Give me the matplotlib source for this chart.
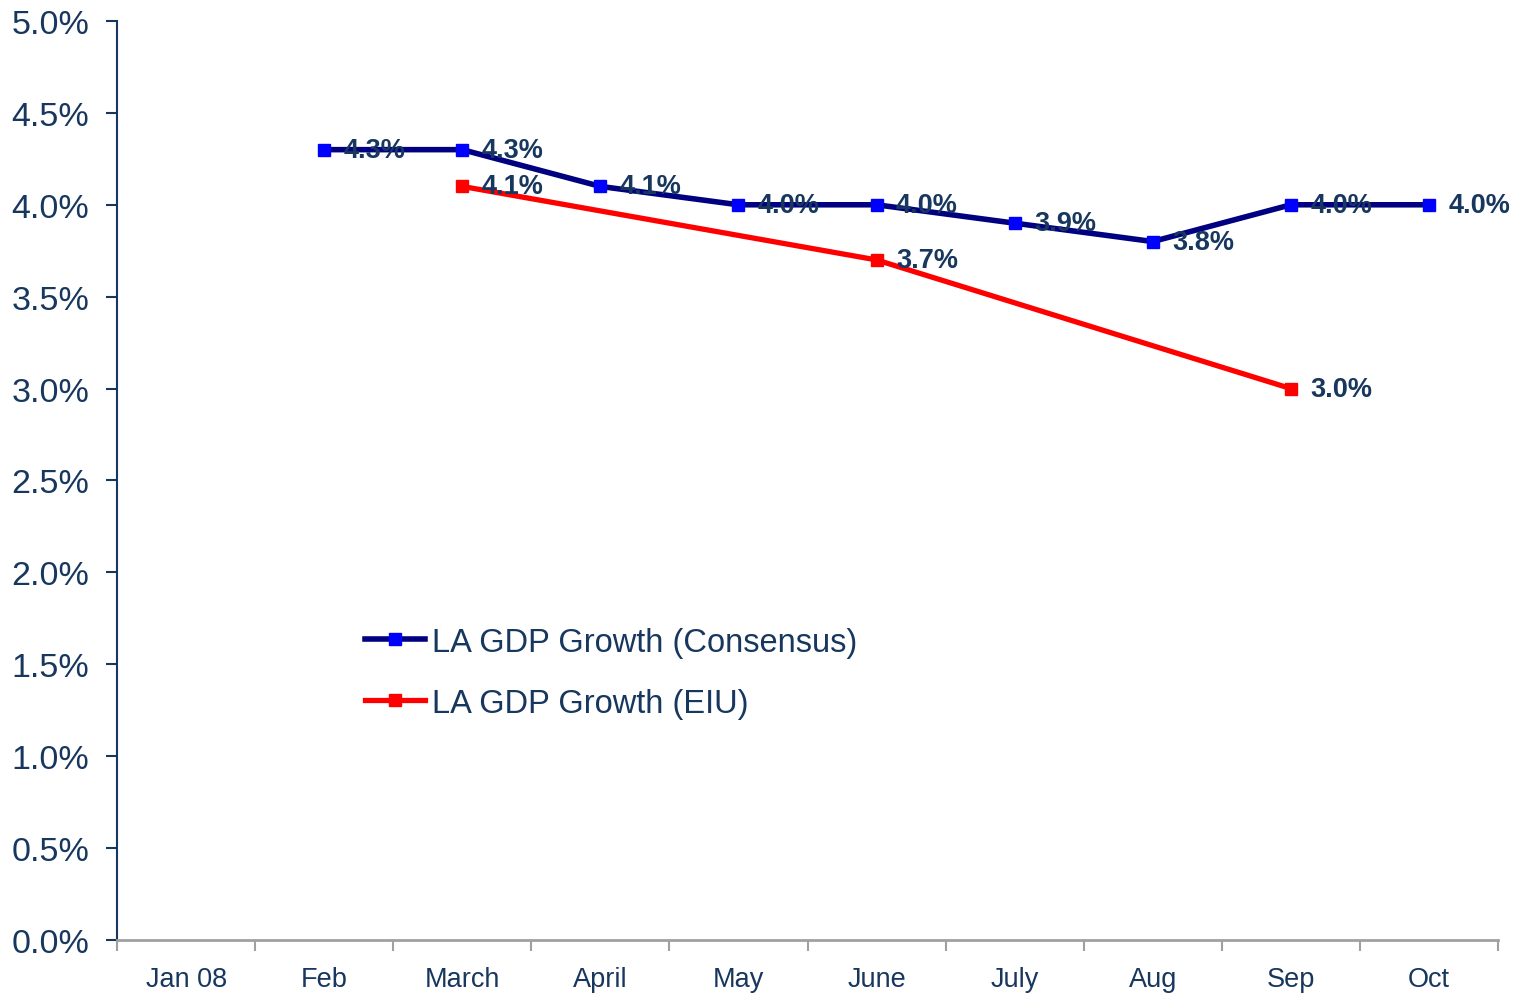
import matplotlib
matplotlib.use("Agg")
import matplotlib.pyplot as plt
from matplotlib.ticker import FuncFormatter, MultipleLocator, FixedLocator
import numpy as np

plt.rcParams['font.family'] = ['Liberation Sans', 'DejaVu Sans']

months = ['Jan 08', 'Feb', 'March', 'April', 'May', 'June', 'July', 'Aug', 'Sep', 'Oct']
consensus = [None, 4.3, 4.3, 4.1, 4.0, 4.0, 3.9, 3.8, 4.0, 4.0]
eiu = [None, None, 4.1, None, None, 3.7, None, None, 3.0, None]

txt_color = '#17375E'

fig = plt.figure(figsize=(15.2, 9.95), dpi=100)
ax = fig.add_axes([0.077, 0.0543, 0.9085, 0.9236])

x = np.arange(len(months))

# consensus series
cx = [i for i, v in zip(x, consensus) if v is not None]
cy = [v for v in consensus if v is not None]
ax.plot(cx, cy, color='#000080', lw=4, marker='s', ms=8.5,
        mfc='#0000FF', mec='#0000FF', label='LA GDP Growth (Consensus)', zorder=3)

# EIU series (gaps joined)
ex = [i for i, v in zip(x, eiu) if v is not None]
ey = [v for v in eiu if v is not None]
ax.plot(ex, ey, color='#FF0000', lw=3.8, marker='s', ms=8.5,
        mfc='#FF0000', mec='#FF0000', label='LA GDP Growth (EIU)', zorder=2)

for xs, ys in [(cx, cy), (ex, ey)]:
    for a, b in zip(xs, ys):
        ax.annotate(f'{b:.1f}%', (a, b), xytext=(14, 0), textcoords='offset points',
                    ha='left', va='center', fontsize=19.5, fontweight='bold',
                    color=txt_color, zorder=4)

ax.set_xlim(-0.5, len(months) - 0.5)
ax.set_ylim(0, 5.0)
ax.yaxis.set_major_locator(MultipleLocator(0.5))
ax.yaxis.set_major_formatter(FuncFormatter(lambda v, p: f'{v:.1f}%'))

ax.set_xticks(x)
ax.set_xticklabels(months)
ax.xaxis.set_minor_locator(FixedLocator(np.arange(-0.5, len(months), 1.0)))
ax.tick_params(axis='x', which='major', length=0, pad=19, labelsize=19.5, labelcolor=txt_color)
ax.tick_params(axis='x', which='minor', length=8, width=1.5, color='#A0A0A0', direction='out')
ax.tick_params(axis='y', length=8, width=1.5, color=txt_color, labelsize=24.5,
               labelcolor=txt_color, pad=12)

for s in ['top', 'right']:
    ax.spines[s].set_visible(False)
ax.spines['left'].set_color(txt_color)
ax.spines['left'].set_linewidth(1.5)
ax.spines['bottom'].set_color('#A0A0A0')
ax.spines['bottom'].set_linewidth(2)

leg = ax.legend(loc='lower left', bbox_to_anchor=(0.158, 0.209), frameon=False,
                fontsize=23.5, handlelength=1.85, handletextpad=0.2, labelspacing=0.92,
                labelcolor=txt_color)

fig.savefig('out.png', dpi=100)
